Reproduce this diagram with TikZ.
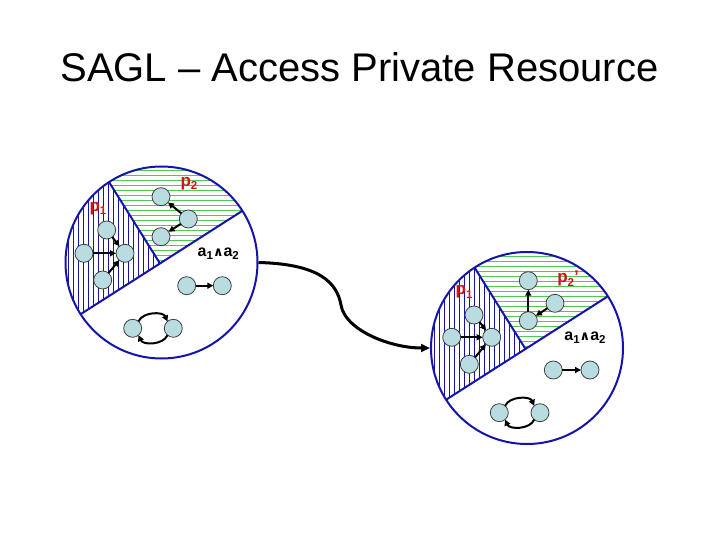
\documentclass[tikz,border=0pt]{standalone}
\usepackage{fontspec}
\setmainfont{Liberation Sans}
\newfontfamily\dejavu{DejaVu Sans}
\usetikzlibrary{arrows.meta}
\definecolor{cblue}{RGB}{20,20,170}
\definecolor{hgreen}{RGB}{80,200,80}
\definecolor{nfill}{RGB}{185,220,224}
\definecolor{lred}{RGB}{210,20,20}
\newcommand\lsub[1]{\raisebox{-3.5pt}{\fontsize{11.5}{12}\selectfont #1}}
\newcommand\wedgeglyph{{\dejavu\bfseries\fontsize{13}{14}\selectfont ∧}}
\newcommand\worldhatch[2]{%
  \begin{scope}[shift={(#1,#2)}]
    \begin{scope}
      \clip (0,0) circle[radius=96pt];
      \clip (-1.5,1) -- (-154.5,-243.5) -- (-300,-243.5) -- (-300,153) -- (-239.7,153) -- cycle;
      \foreach \i in {0,...,20} \draw[vhatch] (-98+5*\i,-100) -- (-98+5*\i,100);
    \end{scope}
    \begin{scope}
      \clip (0,0) circle[radius=96pt];
      \clip (-1.5,1) -- (-154.5,-243.5) -- (-154.5,-300) -- (300,-300) -- (300,-157) -- (245.7,-157) -- cycle;
      \foreach \i in {0,...,18} \draw[hhatch] (-100,-92+5*\i) -- (100,-92+5*\i);
    \end{scope}
    \draw[divider] (-80.9,51.7) -- (80.9,-51.7);
    \draw[divider] (-52.5,-80.5) -- (-1.5,1);
  \end{scope}}
\begin{document}
\begin{tikzpicture}[x=1pt,y=-1pt,
  agent/.style={circle,draw=black!75,line width=0.8pt,fill=nfill,minimum size=18pt,inner sep=0pt,outer sep=0pt},
  world/.style={circle,draw=cblue,line width=2pt,minimum size=192pt,inner sep=0pt},
  divider/.style={draw=cblue,line width=2pt},
  arr/.style={-{Triangle[length=6pt,width=6pt]},line width=2pt,black},
  plabel/.style={text=lred,font=\bfseries\fontsize{17}{18}\selectfont,inner sep=0pt},
  alabel/.style={font=\bfseries\fontsize{16}{18}\selectfont,inner sep=0pt},
  vhatch/.style={draw=cblue,line width=0.8pt},
  hhatch/.style={draw=hgreen,line width=1pt}]
\useasboundingbox (0,0) rectangle (720,540);

\node[font=\fontsize{40}{48}\selectfont,anchor=base,inner sep=0pt] (title) at (359.5,82) {SAGL – Access Private Resource};

% left world
\worldhatch{161.5}{262.5}
\node[world] (L) at (161.5,262.5) {};
\node[agent] (l1c) at (125,253.3) {};
\node[agent] (l1l) at (84,253.3) {};
\node[agent] (l1u) at (106.7,230) {};
\node[agent] (l1d) at (102.7,280) {};
\node[agent] (l2t) at (161,196.7) {};
\node[agent] (l2r) at (188.3,219) {};
\node[agent] (l2b) at (161,236.7) {};
\node[agent] (lpa) at (186.7,285.7) {};
\node[agent] (lpb) at (222.3,285.7) {};
\node[agent] (lla) at (132.7,328.3) {};
\node[agent] (llb) at (173.3,328.3) {};
\draw[arr] (l1l) -- (l1c);
\draw[arr] (l1u) -- (l1c);
\draw[arr] (l1d) -- (l1c);
\draw[arr] (l2r) -- (l2t);
\draw[arr] (l2r) -- (l2b);
\draw[arr] (lpa) -- (lpb);
\draw[arr] (lla.50) .. controls (143,311.5) and (163,311.5) .. (llb.130);
\draw[arr] (llb.230) .. controls (163,345.2) and (143,345.2) .. (lla.310);
\node[plabel] (lp1) at (98,208.5) {p\lsub{1}};
\node[plabel] (lp2) at (189,183.5) {p\lsub{2}};
\node[alabel] (la) at (218.3,253.5) {a\lsub{1}\wedgeglyph a\lsub{2}};

% right world
\worldhatch{527}{348}
\node[world] (R) at (527,348) {};
\node[agent] (r1c) at (491.7,337.3) {};
\node[agent] (r1l) at (451.7,337.3) {};
\node[agent] (r1u) at (474,315) {};
\node[agent] (r1d) at (469.3,364.3) {};
\node[agent] (r2t) at (528.3,280.7) {};
\node[agent] (r2b) at (528.3,320.7) {};
\node[agent] (r2r) at (555,303.3) {};
\node[agent] (rpa) at (553.3,370) {};
\node[agent] (rpb) at (590,370) {};
\node[agent] (rla) at (499.3,412.7) {};
\node[agent] (rlb) at (540,412.7) {};
\draw[arr] (r1l) -- (r1c);
\draw[arr] (r1u) -- (r1c);
\draw[arr] (r1d) -- (r1c);
\draw[arr] (r2b) -- (r2t);
\draw[arr] (r2r) -- (r2b);
\draw[arr] (rpa) -- (rpb);
\draw[arr] (rla.50) .. controls (509.5,396) and (530,396) .. (rlb.130);
\draw[arr] (rlb.230) .. controls (530,429.6) and (509.5,429.6) .. (rla.310);
\node[plabel] (rp1) at (464,292) {p\lsub{1}};
\node[plabel] (rp2) at (568,278.5) {p\lsub{2}'};
\node[alabel] (ra) at (585,337.5) {a\lsub{1}\wedgeglyph a\lsub{2}};

% transition
\draw[line width=3pt,-{Triangle[length=9pt,width=8pt]}] (L.east) .. controls (320,264) and (337,283) .. (341,305) .. controls (345,330) and (390,348) .. (R.west);
\end{tikzpicture}
\end{document}
